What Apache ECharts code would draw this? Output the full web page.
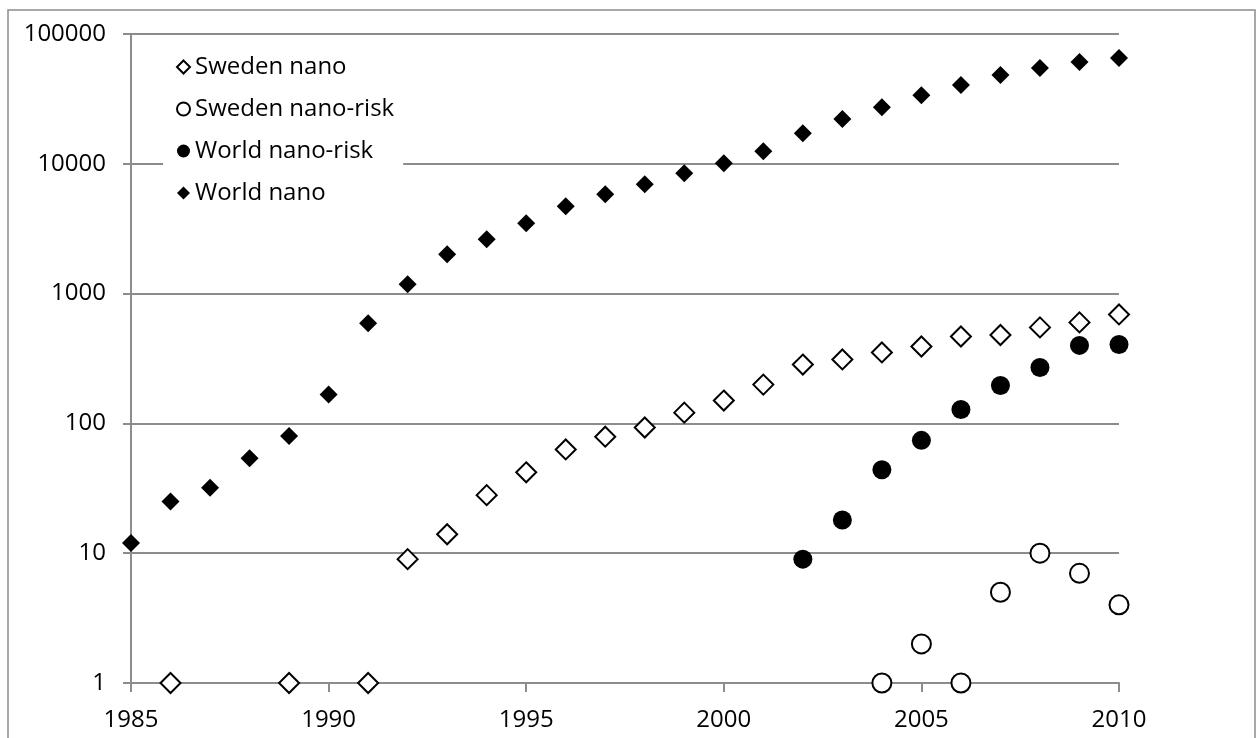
<!DOCTYPE html>
<html>
<head>
<meta charset="utf-8">
<script src="https://cdn.jsdelivr.net/npm/echarts@6/dist/echarts.min.js"></script>
<style>
  html, body { margin: 0; padding: 0; background: #fff; }
  #chart-container { width: 1257px; height: 738px; }
</style>
</head>
<body>
<div id="chart-container"></div>
<script>
// data (publication counts, log scale)
var years = [1985, 1986, 1987, 1988, 1989, 1990, 1991, 1992, 1993, 1994, 1995, 1996, 1997,
             1998, 1999, 2000, 2001, 2002, 2003, 2004, 2005, 2006, 2007, 2008, 2009, 2010];
var worldNano = [12, 25, 32, 54, 80, 167, 590, 1180, 2010, 2620, 3480, 4710, 5830,
                 6960, 8460, 10100, 12500, 17200, 22100, 27300, 33800, 40400, 48300, 54700, 60800, 65300];

var swedenNanoYears = [1986, 1989, 1991, 1992, 1993, 1994, 1995, 1996, 1997, 1998, 1999, 2000,
                       2001, 2002, 2003, 2004, 2005, 2006, 2007, 2008, 2009, 2010];
var swedenNano = [1, 1, 1, 9, 14, 28, 42, 63, 79, 93, 121, 150,
                  199, 284, 311, 352, 391, 467, 480, 549, 600, 691];

var worldRiskYears = [2002, 2003, 2004, 2005, 2006, 2007, 2008, 2009, 2010];
var worldRisk = [9, 18, 44, 74, 128, 196, 270, 399, 405];

var swedenRiskYears = [2004, 2005, 2006, 2007, 2008, 2009, 2010];
var swedenRisk = [1, 2, 1, 5, 10, 7, 4];

var seriesNames = ['Sweden nano', 'Sweden nano-risk', 'World nano-risk', 'World nano'];

function pairs(xs, ys) {
    return xs.map(function (x, i) { return [x, ys[i]]; });
}

var dom = document.getElementById('chart-container');
var myChart = echarts.init(dom, null, { renderer: 'canvas' });

var gray = '#8c8c8c';
var font = 'Open Sans';

// plain numbers, no thousands separator
function plain(v) { return String(Math.round(v)); }

var option = {
    animation: false,
    backgroundColor: '#fff',
    graphic: [{
        type: 'rect',
        shape: { x: 8, y: 10, width: 1247, height: 760 },
        style: { fill: 'none', stroke: gray, lineWidth: 1.5 },
        z: -1
    }],
    grid: { left: 131, right: 138, top: 34, bottom: 55 },
    legend: {
        orient: 'vertical',
        left: 163,
        top: 49,
        padding: [6, 9, 6, 13],
        itemGap: 18,
        itemWidth: 13,
        itemHeight: 13,
        backgroundColor: '#fff',
        data: seriesNames,
        textStyle: { fontFamily: font, fontSize: 24, color: '#000' },
        z: 10
    },
    xAxis: {
        type: 'value',
        min: 1985,
        max: 2010,
        interval: 5,
        axisLine: { show: true, lineStyle: { color: gray, width: 2 } },
        axisTick: { show: true, length: 9, lineStyle: { color: gray, width: 2 } },
        axisLabel: { fontFamily: font, fontSize: 24, color: '#000', margin: 25, formatter: plain },
        splitLine: { show: false }
    },
    yAxis: {
        type: 'log',
        logBase: 10,
        min: 1,
        max: 100000,
        axisLine: { show: true, lineStyle: { color: gray, width: 2 } },
        axisTick: { show: true, length: 8, lineStyle: { color: gray, width: 2 } },
        axisLabel: { fontFamily: font, fontSize: 24, color: '#000', margin: 25, formatter: plain },
        splitLine: { show: true, lineStyle: { color: gray, width: 2 } }
    },
    series: [
        {
            name: seriesNames[0],
            type: 'scatter',
            symbol: 'diamond',
            symbolSize: 20,
            itemStyle: { color: '#fff', borderColor: '#000', borderWidth: 2, opacity: 1 },
            data: pairs(swedenNanoYears, swedenNano)
        },
        {
            name: seriesNames[1],
            type: 'scatter',
            symbol: 'circle',
            symbolSize: 19,
            itemStyle: { color: '#fff', borderColor: '#000', borderWidth: 2, opacity: 1 },
            data: pairs(swedenRiskYears, swedenRisk)
        },
        {
            name: seriesNames[2],
            type: 'scatter',
            symbol: 'circle',
            symbolSize: 19,
            itemStyle: { color: '#000', opacity: 1 },
            data: pairs(worldRiskYears, worldRisk)
        },
        {
            name: seriesNames[3],
            type: 'scatter',
            symbol: 'diamond',
            symbolSize: 18,
            itemStyle: { color: '#000', opacity: 1 },
            data: pairs(years, worldNano)
        }
    ]
};

myChart.setOption(option);

window.addEventListener('resize', function () {
    myChart.resize();
});
</script>
</body>
</html>
